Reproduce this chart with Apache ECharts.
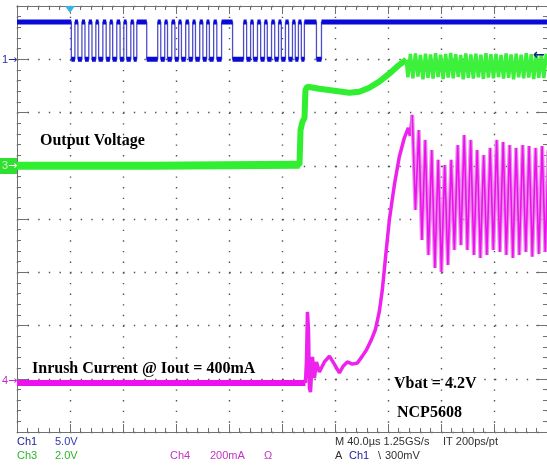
<!DOCTYPE html>
<html>
<head>
<meta charset="utf-8">
<script src="https://cdn.jsdelivr.net/npm/echarts@6/dist/echarts.min.js"></script>
<style>
html,body{margin:0;padding:0;background:#fff;}
#scope{width:547px;height:465px;}
</style>
</head>
<body>
<div id="scope"></div>
<script>
// time base 40us/div, trigger one division from the left
var timeMin = -40, timeMax = 360, timeDiv = 40;

// Ch1 5V/div : serial bus, level toggles at these times (us), starts high
var ch1Scale = 5.0, ch1Offset = 3.0;
var ch1High = 3.5, ch1Low = 0;
var ch1Edges = [1.0,
	3.7, 6.0, 9.0, 11.3, 14.2, 16.6, 19.5, 21.6, 24.8, 27.3, 30.1, 32.2, 35.3, 37.8, 40.6, 42.7, 45.9, 48.1,
	50.4, 57.9,
	66.2, 68.5, 71.5, 73.6, 76.8, 79.2, 82.0, 84.1, 87.3, 89.7, 92.6, 94.7, 97.9, 100.3, 103.1, 105.2, 108.4, 110.8,
	114.4, 122.7,
	131.0, 133.3, 136.3, 138.4, 141.5, 143.9, 146.8, 148.9, 152.1, 154.5, 157.4, 159.5, 162.6, 165.0, 167.9, 170.0, 172.4, 174.6,
	176.9, 186.0,
	189.8];

// Ch3 2V/div : output voltage
var ch3Scale = 2.0, ch3Offset = 1.0;
var ch3Time = [-40, 60, 173.2, 174.0, 175.4, 177.0, 177.7, 179.2, 188.2, 199.5, 210.8, 218.4, 225.9, 233.4, 241.0, 248.5, 253.8,
	255.0, 256.9, 258.8, 260.7, 262.6, 264.5, 266.4, 268.3, 270.2, 272.1, 274.0, 275.9, 277.8, 279.7, 281.6, 283.5,
	285.4, 287.3, 289.2, 291.1, 293.0, 294.9, 296.8, 298.7, 300.6, 302.5, 304.4, 306.3, 308.2, 310.1, 312.0, 313.9,
	315.8, 317.7, 319.6, 321.5, 323.4, 325.3, 327.2, 329.1, 331.0, 332.9, 334.8, 336.7, 338.6, 340.5, 342.4, 344.3,
	346.2, 348.1, 350.0, 351.9, 353.8, 355.7, 357.6, 359.5];
var ch3Volt = [0, 0, 0.04, 1.35, 1.65, 1.80, 2.85, 2.97, 2.89, 2.82, 2.74, 2.78, 2.93, 3.16, 3.46, 3.79, 3.98,
	3.32, 4.20, 3.28, 4.22, 3.35, 4.16, 3.25, 4.21, 3.30, 4.18, 3.27, 4.23, 3.33, 4.17, 3.26, 4.20,
	3.31, 4.24, 3.28, 4.19, 3.34, 4.16, 3.25, 4.22, 3.30, 4.18, 3.27, 4.21, 3.32, 4.17, 3.26, 4.23,
	3.31, 4.19, 3.28, 4.20, 3.33, 4.16, 3.27, 4.22, 3.30, 4.18, 3.25, 4.21, 3.32, 4.17, 3.28, 4.23,
	3.31, 4.19, 3.26, 4.20, 3.30, 4.18, 3.29, 4.21];
var ch3OscStart = 16;

// Ch4 200mA/div : inrush current
var ch4Scale = 200, ch4Offset = -3.08;
var ch4Time = [-40, 177.7, 178.5, 179.2, 180.0, 180.7, 181.5, 183.0, 184.5, 186.0, 188.2, 192.0, 195.8, 199.5, 203.3,
	206.3, 209.3, 213.1, 216.9, 220.6, 223.7, 227.4, 230.4, 233.4, 235.7, 238.7, 241.0, 244.8, 248.5, 252.3,
	255.3, 256.8, 258.3,
	260.7, 263.2, 265.6, 268.1, 270.5, 273.0, 275.4, 277.9, 280.3, 282.8, 285.2, 287.7, 290.1, 292.6, 295.0,
	297.5, 299.9, 302.4, 304.8, 307.3, 309.7, 312.2, 314.6, 317.1, 319.5, 322.0, 324.4, 326.9, 329.3, 331.8,
	334.2, 336.7, 339.1, 341.6, 344.0, 346.5, 348.9, 351.4, 353.8, 356.3, 358.7, 361.0];
var ch4Current = [0, 0, 86, 267, 199, -19, -34, 98, 19, 79, 41, 79, 101, 71, 38,
	64, 79, 71, 75, 101, 124, 162, 199, 267, 349, 500, 612, 744, 849, 920,
	958, 928, 1007,
	650, 950, 537, 913, 481, 875, 432, 838, 417, 819, 443, 838, 500, 894, 518,
	931, 500, 913, 481, 875, 470, 856, 481, 883, 500, 913, 492, 905, 481, 894,
	470, 883, 481, 894, 492, 890, 474, 883, 485, 890, 492, 875];
var ch4OscStart = 32;

function toDiv(v, scale, off) {
	return off + v / scale;
}

function pairs(times, vals, scale, off, from, to) {
	var out = [];
	for (var i = from; i < to; i++) {
		out.push([times[i], toDiv(vals[i], scale, off)]);
	}
	return out;
}

// ch1 step path + the thick level segments
var ch1Step = [], ch1Bars = [];
var lvl = ch1High, start = timeMin;
ch1Step.push([timeMin, toDiv(lvl, ch1Scale, ch1Offset)]);
for (var i = 0; i < ch1Edges.length; i++) {
	var t = ch1Edges[i];
	var next = (lvl == ch1High) ? ch1Low : ch1High;
	ch1Step.push([t, toDiv(lvl, ch1Scale, ch1Offset)]);
	ch1Step.push([t, toDiv(next, ch1Scale, ch1Offset)]);
	ch1Bars.push([start, toDiv(lvl, ch1Scale, ch1Offset)]);
	ch1Bars.push([t, toDiv(lvl, ch1Scale, ch1Offset)]);
	ch1Bars.push([t, '-']);
	lvl = next;
	start = t;
}
ch1Step.push([timeMax, toDiv(lvl, ch1Scale, ch1Offset)]);
ch1Bars.push([start, toDiv(lvl, ch1Scale, ch1Offset)]);
ch1Bars.push([timeMax, toDiv(lvl, ch1Scale, ch1Offset)]);

var frameColor = '#707070';
var dotColor = '#505050';

function xAx(pos, grid) {
	return {
		type: 'value', min: timeMin, max: timeMax, interval: timeDiv, position: pos,
		axisLine: {show: true, onZero: false, lineStyle: {color: frameColor, width: 1}},
		axisTick: {show: true, inside: true, length: 8, lineStyle: {color: frameColor}},
		minorTick: {show: true, splitNumber: 5, length: 4, lineStyle: {color: frameColor}},
		axisLabel: {show: false},
		splitLine: {show: grid, lineStyle: {color: dotColor, width: 1.4, type: [1.4, 9.25], cap: 'butt'}}
	};
}
function yAx(pos, grid) {
	return {
		type: 'value', min: -4, max: 4, interval: 1, position: pos,
		axisLine: {show: true, onZero: false, lineStyle: {color: frameColor, width: 1}},
		axisTick: {show: true, inside: true, length: 11, lineStyle: {color: frameColor}},
		minorTick: {show: true, splitNumber: 5, length: 4, lineStyle: {color: frameColor}},
		axisLabel: {show: false},
		splitLine: {show: grid, lineStyle: {color: dotColor, width: 1.4, type: [1.4, 9.22], cap: 'butt'}}
	};
}

function trace(data, color, width, z) {
	return {
		type: 'line', data: data, showSymbol: false, symbol: 'none', connectNulls: false,
		lineStyle: {color: color, width: width}, z: z, silent: true
	};
}

var serif = 'bold 16px "Liberation Serif", "Times New Roman", serif';
var small = '11px "Liberation Sans", Arial, sans-serif';

function txt(s, x, y, font, color) {
	return {type: 'text', x: x, y: y, z: 100,
		style: {text: s, font: font, fill: color, align: 'left', verticalAlign: 'middle'}};
}

var option = {
	animation: false,
	backgroundColor: '#ffffff',
	grid: {left: 17, top: 6, width: 531, height: 426},
	xAxis: [xAx('bottom', true), xAx('top', false)],
	yAxis: [yAx('left', true), yAx('right', false)],
	series: [
		trace(ch1Step, '#4e4ecc', 1.3, 3),
		trace(ch1Bars, '#0a0ad8', 5, 4),
		trace(pairs(ch3Time, ch3Volt, ch3Scale, ch3Offset, 0, ch3OscStart + 1), '#30ee30', 6, 5),
		trace(pairs(ch3Time, ch3Volt, ch3Scale, ch3Offset, 0, 3), '#30ee30', 8, 5),
		trace(pairs(ch3Time, ch3Volt, ch3Scale, ch3Offset, ch3OscStart, ch3Time.length), '#3cf03c', 3.5, 5),
		trace(pairs(ch4Time, ch4Current, ch4Scale, ch4Offset, 0, 2), '#ee10ee', 6, 6),
		trace(pairs(ch4Time, ch4Current, ch4Scale, ch4Offset, 1, ch4OscStart + 1), '#ee22ee', 3.5, 6),
		trace(pairs(ch4Time, ch4Current, ch4Scale, ch4Offset, ch4OscStart, ch4Time.length), '#e890e8', 4, 6),
		trace(pairs(ch4Time, ch4Current, ch4Scale, ch4Offset, ch4OscStart, ch4Time.length), '#ee10ee', 1.6, 7)
	],
	graphic: [
		// channel ground markers
		txt('1', 2, 60, small, '#2a2a9a'),
		txt('\u2192', 8, 60, '11px "DejaVu Sans"', '#2a2a9a'),
		{type: 'rect', shape: {x: 0, y: 158, width: 17, height: 16}, style: {fill: '#30e030'}, z: 90},
		txt('3', 2, 166, small, '#c8f8c8'),
		txt('\u2192', 8, 166, '11px "DejaVu Sans"', '#ffffff'),
		txt('4', 2, 381, small, '#c030c0'),
		txt('\u2192', 8, 381, '11px "DejaVu Sans"', '#c030c0'),
		// trigger position and level
		{type: 'polygon', shape: {points: [[65, 6], [75, 6], [70, 13]]}, style: {fill: '#38b4e4'}, z: 95},
		txt('\u2190', 533, 55, 'bold 14px "DejaVu Sans"', '#1a1a8a'),
		// annotations
		txt('Output Voltage', 40, 141, serif, '#000000'),
		txt('Inrush Current @ Iout = 400mA', 32, 369, serif, '#000000'),
		txt('Vbat = 4.2V', 394, 384, serif, '#000000'),
		txt('NCP5608', 397, 413, serif, '#000000'),
		// status readout
		txt('Ch1', 17, 442, small, '#1c1c9c'),
		txt('5.0V', 55, 442, small, '#3434b4'),
		txt('Ch3', 17, 456, small, '#2cb42c'),
		txt('2.0V', 55, 456, small, '#2cb42c'),
		txt('Ch4', 170, 456, small, '#c034c0'),
		txt('200mA', 210, 456, small, '#c034c0'),
		txt('\u03a9', 264, 456, small, '#c034c0'),
		txt('M 40.0\u00b5s 1.25GS/s', 335, 442, small, '#303030'),
		txt('IT 200ps/pt', 443, 442, small, '#303030'),
		txt('A', 335, 456, small, '#303030'),
		txt('Ch1', 349, 456, small, '#1c1c9c'),
		txt('\\', 378, 456, small, '#303030'),
		txt('300mV', 385, 456, small, '#303030')
	]
};

var myChart = echarts.init(document.getElementById('scope'));
myChart.setOption(option);
</script>
</body>
</html>
